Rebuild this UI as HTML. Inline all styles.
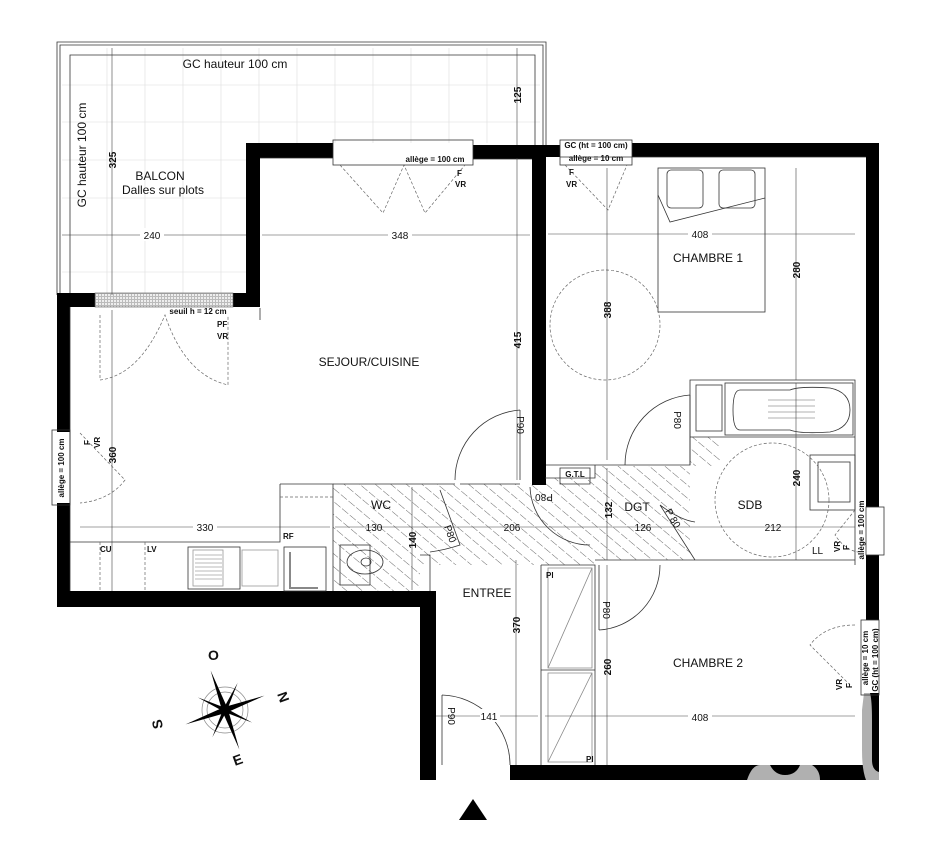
<!DOCTYPE html>
<html><head><meta charset="utf-8"><style>
html,body{margin:0;padding:0;background:#fff;}
svg{display:block;}
text{font-family:"Liberation Sans",sans-serif;fill:#111;}
.t{font-size:12px;}
.s{font-size:10px;}
.xs{font-size:8px;font-weight:bold;}
.thin{stroke:#333;stroke-width:0.8;fill:none;}
.dim{stroke:#444;stroke-width:0.6;fill:none;}
.dash{stroke:#666;stroke-width:0.7;fill:none;stroke-dasharray:3 2;}
.grid{stroke:#ddd;stroke-width:0.6;}
</style></head><body>
<svg width="948" height="868" viewBox="0 0 948 868" xmlns="http://www.w3.org/2000/svg">
<defs>
<pattern id="h" width="10" height="10" patternUnits="userSpaceOnUse" patternTransform="rotate(-50)">
<line x1="0" y1="0" x2="0" y2="10" stroke="#444" stroke-width="0.8" stroke-dasharray="7 2"/>
</pattern>
<pattern id="g" width="3" height="3" patternUnits="userSpaceOnUse"><rect width="3" height="3" fill="#bbb"/><rect width="2" height="2" fill="#eee"/></pattern>
</defs>
<!-- balcony -->
<g class="grid">
<line x1="62" y1="85" x2="540" y2="85"/><line x1="62" y1="122" x2="540" y2="122"/><line x1="62" y1="160" x2="246" y2="160"/>
<line x1="62" y1="198" x2="246" y2="198"/><line x1="62" y1="235" x2="246" y2="235"/><line x1="62" y1="272" x2="246" y2="272"/>
<line x1="107" y1="48" x2="107" y2="295"/><line x1="145" y1="48" x2="145" y2="295"/><line x1="183" y1="48" x2="183" y2="295"/><line x1="221" y1="48" x2="221" y2="295"/>
<line x1="259" y1="48" x2="259" y2="143"/><line x1="297" y1="48" x2="297" y2="143"/><line x1="335" y1="48" x2="335" y2="143"/><line x1="373" y1="48" x2="373" y2="143"/>
<line x1="411" y1="48" x2="411" y2="143"/><line x1="449" y1="48" x2="449" y2="143"/><line x1="487" y1="48" x2="487" y2="143"/>
</g>
<path d="M57 295 V42 H546 V145" class="thin" stroke="#888"/>
<path d="M60 295 V45 H543 V145" class="thin" stroke="#999"/>
<path d="M70 295 V55 H535 V145" class="thin" stroke="#999"/>
<!-- hatched areas -->
<path d="M333 484 H420 V591 H333 Z" fill="url(#h)"/>
<path d="M420 484 H530 V478 H595 V466 H720 V437 H690 V560 H595 V565 H420 Z" fill="url(#h)"/>
<!-- black walls -->
<g fill="#000">
<rect x="57" y="293" width="38" height="14"/>
<rect x="233" y="293" width="27" height="14"/>
<rect x="246" y="143" width="14" height="164"/>
<rect x="246" y="143" width="87" height="15"/>
<rect x="473" y="145" width="73" height="14"/>
<rect x="532" y="145" width="14" height="340"/>
<rect x="546" y="145" width="14" height="12"/>
<rect x="632" y="143" width="247" height="14"/>
<rect x="866" y="143" width="13" height="364"/>
<rect x="866" y="555" width="13" height="65"/>
<rect x="866" y="693" width="13" height="87"/>
<rect x="57" y="293" width="13" height="139"/>
<rect x="57" y="503" width="13" height="104"/>
<rect x="57" y="591" width="379" height="16"/>
<rect x="420" y="591" width="16" height="189"/>
<rect x="510" y="765" width="369" height="15"/>
</g>
<!-- watermark -->
<g fill="#b0b0b0">
<path d="M747 780 Q752 765 760 765 H770 Q775 775 785 775 Q796 775 800 765 H812 Q820 770 820 780 Z"/>
<path d="M864 693 H870 Q872 700 872 720 V760 Q872 770 879 772 V780 H866 Q862 770 862 750 V710 Z"/>
</g>
<!-- balcony threshold -->
<rect x="95" y="293" width="138" height="14" fill="url(#g)" stroke="#555" stroke-width="0.6"/>
<!-- inner thin walls -->
<g class="thin">
<path d="M260 320 V308 M260 158 H333 M473 159 H532"/>
<path d="M560 157 H866"/>
<path d="M70 307 V591"/>
<path d="M280 484 H333 V591 M280 484 V542 H70"/>
<path d="M333 484 H455 M460 484 H520"/>
<path d="M546 465 H595 V478 H545 M595 465 H690 V437 H855 M690 437 V380 H855 V565"/>
<path d="M420 555 H430 V591 M595 560 H690 M605 560 H855"/>
<path d="M541 565 H595 V765 M541 565 V765 M541 670 H595"/>
<path d="M548 568 H592 V668 H548 Z M548 673 H592 V762 H548 Z" stroke="#888"/>
<path d="M548 668 L592 568 M548 762 L592 673" stroke="#888"/>
<path d="M560 468 H590 V484 H560 Z"/>
</g>
<!-- bath -->
<g class="thin">
<rect x="725" y="383" width="128" height="52"/>
<path d="M740 390 H790 Q800 386 830 388 Q850 392 850 410 Q850 428 830 432 Q800 434 790 430 H740 Q733 430 733 410 Q733 390 740 390 Z"/>
<path d="M768 400 H815 M768 406 H815 M768 412 H815 M768 418 H815" stroke="#999"/>
<rect x="696" y="385" width="26" height="46"/>
<rect x="810" y="455" width="45" height="55"/>
<rect x="818" y="462" width="32" height="40"/>
<rect x="340" y="545" width="30" height="40"/>
<ellipse cx="365" cy="562" rx="18" ry="12"/>
<ellipse cx="366" cy="562" rx="5" ry="4"/>
<rect x="188" y="547" width="52" height="42"/>
<rect x="193" y="550" width="30" height="36" stroke="#999"/>
<rect x="242" y="550" width="36" height="36" stroke="#999"/>
<rect x="284" y="547" width="42" height="44"/>
<path d="M290 552 V588 H318" stroke="#888" stroke-width="2"/>
</g>
<path d="M195 555 H222 M195 559 H222 M195 563 H222 M195 567 H222 M195 571 H222 M195 575 H222 M195 579 H222" stroke="#777" stroke-width="0.6"/>
<path d="M280 497 H333 M100 542 V591 M145 542 V591" class="dash"/>
<!-- bed -->
<g class="thin">
<rect x="658" y="168" width="107" height="144"/>
<path d="M658 195 L670 222 L765 198"/>
<rect x="667" y="170" width="36" height="38" rx="4"/>
<rect x="719" y="170" width="36" height="38" rx="4"/>
</g>
<circle cx="605" cy="325" r="55" class="dash"/>
<circle cx="772" cy="500" r="57" class="dash"/>
<!-- windows -->
<g class="thin">
<rect x="333" y="140" width="140" height="25"/>
<rect x="560" y="140" width="72" height="25"/>
<rect x="52" y="430" width="18" height="75"/>
<rect x="866" y="507" width="18" height="48"/>
<rect x="861" y="620" width="18" height="75"/>
</g>
<g class="dash">
<path d="M340 165 L383 213 L404 165 L425 213 L465 165"/>
<path d="M565 165 L608 210 L627 165"/>
<path d="M80 433 L125 480 Q110 500 80 503"/>
<path d="M100 315 V380 Q140 375 165 315 Q185 375 228 385 V315"/>
<path d="M855 510 L835 535 Q845 550 858 552"/>
<path d="M855 625 Q825 625 810 645 L850 685"/>
</g>
<!-- doors -->
<g class="thin" stroke="#555">
<path d="M520 410 V480 M520 410 A70 70 0 0 0 455 480"/>
<path d="M690 395 V465 M690 395 A70 70 0 0 0 625 465"/>
<path d="M530 487 A60 60 0 0 0 590 545"/>
<path d="M440 490 L460 545 Q445 550 430 552"/>
<path d="M660 505 L695 560 M660 505 Q680 520 695 522"/>
<path d="M599 565 V630 M599 630 A65 65 0 0 0 660 565"/>
<path d="M442 695 V765 M442 695 A70 70 0 0 1 510 765"/>
</g>
<!-- dimension lines -->
<g class="dim">
<line x1="517" y1="48" x2="517" y2="145"/><line x1="517" y1="158" x2="517" y2="480"/>
<line x1="112" y1="48" x2="112" y2="295"/><line x1="112" y1="310" x2="112" y2="591"/>
<line x1="62" y1="235" x2="246" y2="235"/><line x1="262" y1="235" x2="530" y2="235"/>
<line x1="548" y1="234" x2="855" y2="234"/>
<line x1="796" y1="168" x2="796" y2="380"/><line x1="796" y1="383" x2="796" y2="560"/>
<line x1="607" y1="168" x2="607" y2="460"/><line x1="607" y1="468" x2="607" y2="560"/>
<line x1="80" y1="527" x2="330" y2="527"/><line x1="335" y1="527" x2="855" y2="527"/>
<line x1="412" y1="487" x2="412" y2="590"/>
<line x1="516" y1="560" x2="516" y2="765"/><line x1="607" y1="565" x2="607" y2="765"/>
<line x1="436" y1="716" x2="538" y2="716"/><line x1="545" y1="716" x2="855" y2="716"/>
</g>
<!-- texts -->
<text x="235" y="68" class="t" text-anchor="middle">GC hauteur 100 cm</text>
<text transform="translate(86,155) rotate(-90)" class="t" text-anchor="middle">GC hauteur 100 cm</text>
<text x="160" y="180" class="t" text-anchor="middle">BALCON</text>
<text x="163" y="194" class="t" text-anchor="middle">Dalles sur plots</text>
<g class="s" font-weight="bold">
<text transform="translate(521,95) rotate(-90)" class="s" text-anchor="middle">125</text>
<text transform="translate(116,160) rotate(-90)" class="s" text-anchor="middle">325</text>
<text transform="translate(521,340) rotate(-90)" class="s" text-anchor="middle">415</text>
<text transform="translate(611,310) rotate(-90)" class="s" text-anchor="middle">388</text>
<text transform="translate(800,270) rotate(-90)" class="s" text-anchor="middle">280</text>
<text transform="translate(116,455) rotate(-90)" class="s" text-anchor="middle">360</text>
<text transform="translate(416,540) rotate(-90)" class="s" text-anchor="middle">140</text>
<text transform="translate(612,510) rotate(-90)" class="s" text-anchor="middle">132</text>
<text transform="translate(800,478) rotate(-90)" class="s" text-anchor="middle">240</text>
<text transform="translate(520,625) rotate(-90)" class="s" text-anchor="middle">370</text>
<text transform="translate(611,667) rotate(-90)" class="s" text-anchor="middle">260</text>
</g>
<rect x="140" y="228" width="24" height="13" fill="#fff"/><text x="152" y="239" class="s" text-anchor="middle">240</text>
<rect x="388" y="228" width="24" height="13" fill="#fff"/><text x="400" y="239" class="s" text-anchor="middle">348</text>
<rect x="688" y="227" width="24" height="13" fill="#fff"/><text x="700" y="238" class="s" text-anchor="middle">408</text>
<text x="708" y="262" class="t" text-anchor="middle">CHAMBRE 1</text>
<text x="369" y="366" class="t" text-anchor="middle">SEJOUR/CUISINE</text>
<rect x="193" y="520" width="24" height="13" fill="#fff"/><text x="205" y="531" class="s" text-anchor="middle">330</text>
<text x="374" y="531" class="s" text-anchor="middle">130</text>
<text x="512" y="531" class="s" text-anchor="middle">206</text>
<text x="643" y="531" class="s" text-anchor="middle">126</text>
<text x="773" y="531" class="s" text-anchor="middle">212</text>
<text x="381" y="509" class="t" text-anchor="middle">WC</text>
<text x="637" y="511" class="t" text-anchor="middle">DGT</text>
<text x="750" y="509" class="t" text-anchor="middle">SDB</text>
<text x="487" y="597" class="t" text-anchor="middle">ENTREE</text>
<text x="708" y="667" class="t" text-anchor="middle">CHAMBRE 2</text>
<rect x="480" y="709" width="20" height="13" fill="#fff"/><text x="489" y="720" class="s" text-anchor="middle">141</text>
<rect x="688" y="709" width="24" height="13" fill="#fff"/><text x="700" y="721" class="s" text-anchor="middle">408</text>
<g class="s">
<text transform="translate(517,425) rotate(90)" text-anchor="middle">P90</text>
<text transform="translate(674,420) rotate(90)" text-anchor="middle">P80</text>
<text transform="translate(544,494) rotate(180)" text-anchor="middle">P80</text>
<text transform="translate(670,520) rotate(60)" text-anchor="middle">P 80</text>
<text transform="translate(447,535) rotate(70)" text-anchor="middle">P80</text>
<text transform="translate(603,610) rotate(90)" text-anchor="middle">P80</text>
<text transform="translate(448,716) rotate(90)" text-anchor="middle">P90</text>
</g>
<text x="435" y="162" class="xs" text-anchor="middle">allège = 100 cm</text>
<text x="457" y="176" class="xs">F</text><text x="455" y="187" class="xs">VR</text>
<text x="198" y="314" class="xs" text-anchor="middle">seuil h = 12 cm</text>
<text x="217" y="327" class="xs">PF</text><text x="217" y="339" class="xs">VR</text>
<text transform="translate(64,468) rotate(-90)" class="xs" text-anchor="middle">allège = 100 cm</text>
<text transform="translate(90,445) rotate(-90)" class="xs">F</text>
<text transform="translate(100,448) rotate(-90)" class="xs">VR</text>
<text x="596" y="148" class="xs" text-anchor="middle" font-size="7">GC (ht = 100 cm)</text>
<text x="596" y="161" class="xs" text-anchor="middle">allège = 10 cm</text>
<text x="569" y="175" class="xs">F</text><text x="566" y="187" class="xs">VR</text>
<text transform="translate(864,530) rotate(-90)" class="xs" text-anchor="middle" font-size="7">allège = 100 cm</text>
<text transform="translate(849,550) rotate(-90)" class="xs">F</text>
<text transform="translate(840,552) rotate(-90)" class="xs">VR</text>
<text transform="translate(868,658) rotate(-90)" class="xs" text-anchor="middle">allège = 10 cm</text>
<text transform="translate(878,660) rotate(-90)" class="xs" text-anchor="middle" font-size="7">GC (ht = 100 cm)</text>
<text transform="translate(852,688) rotate(-90)" class="xs">F</text>
<text transform="translate(842,690) rotate(-90)" class="xs">VR</text>
<text x="100" y="552" class="xs">CU</text><text x="147" y="552" class="xs">LV</text>
<text x="283" y="539" class="xs">RF</text>
<text x="575" y="477" class="xs" text-anchor="middle">G.T.L</text>
<text x="812" y="554" class="s">LL</text>
<text x="546" y="578" class="xs">Pl</text><text x="586" y="762" class="xs">Pl</text>
<!-- compass -->
<g transform="translate(225,710)">
<circle r="23" fill="none" stroke="#888" stroke-width="0.7"/>
<circle r="18" fill="none" stroke="#888" stroke-width="0.7"/>
<g transform="rotate(-20)">
<polygon points="0,-42 3,0 0,42 -3,0" fill="#000"/>
<polygon points="-42,0 0,-3 42,0 0,3" fill="#000"/>
<g transform="rotate(45)"><polygon points="0,-30 2,0 0,30 -2,0" fill="#000"/><polygon points="-30,0 0,-2 30,0 0,2" fill="#000"/></g>
</g>
<text x="-17" y="-50" font-size="14" font-weight="bold">O</text>
<text transform="translate(52,-16) rotate(70)" font-size="14" font-weight="bold">N</text>
<text transform="translate(-62,18) rotate(-100)" font-size="14" font-weight="bold">S</text>
<text transform="translate(10,56) rotate(-20)" font-size="14" font-weight="bold">E</text>
</g>
<polygon points="459,820 487,820 473,799" fill="#000"/>
</svg>
</body></html>
